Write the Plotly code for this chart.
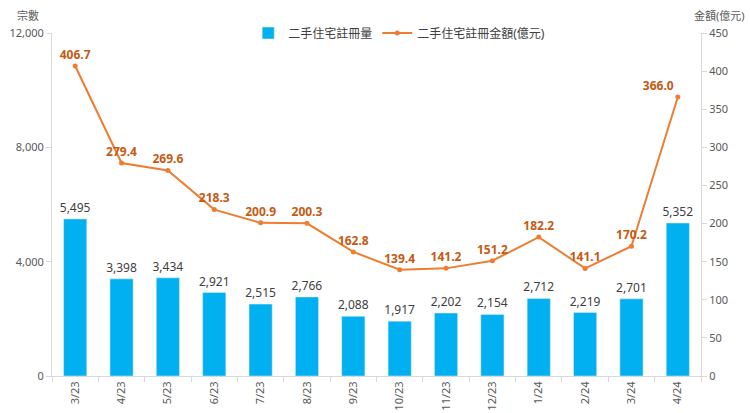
import plotly.graph_objects as go

months = ["3/23", "4/23", "5/23", "6/23", "7/23", "8/23", "9/23", "10/23", "11/23", "12/23", "1/24", "2/24", "3/24", "4/24"]
volume = [5495, 3398, 3434, 2921, 2515, 2766, 2088, 1917, 2202, 2154, 2712, 2219, 2701, 5352]
amount = [406.7, 279.4, 269.6, 218.3, 200.9, 200.3, 162.8, 139.4, 141.2, 151.2, 182.2, 141.1, 170.2, 366.0]
left_ticks = [0, 4000, 8000, 12000]
right_ticks = [0, 50, 100, 150, 200, 250, 300, 350, 400, 450]

font_family = "Noto Sans, Noto Sans CJK TC, sans-serif"
grey = "#595959"
axis_col = "#d9d9d9"

text_pos = ["top center"] * len(amount)
text_pos[-1] = "top left"

fig = go.Figure()
fig.add_trace(go.Bar(
    x=months, y=volume, name="二手住宅註冊量",
    marker=dict(color="#00b0f0"),
    text=[f"{v:,}" for v in volume], textposition="outside",
    constraintext="none",
    textfont=dict(size=12, color="#404040"), cliponaxis=False,
))
fig.add_trace(go.Scatter(
    x=months, y=amount, name="二手住宅註冊金額(億元)", yaxis="y2",
    mode="lines+markers+text",
    line=dict(color="#ed7d31", width=2),
    marker=dict(size=5, color="#ed7d31"),
    text=[f"<b>{v:.1f}</b>" for v in amount], textposition=text_pos,
    textfont=dict(size=12, color="#c55a11"), cliponaxis=False,
))

fig.update_layout(
    width=750, height=413,
    margin=dict(l=52, r=49, t=33, b=37, autoexpand=False),
    paper_bgcolor="white", plot_bgcolor="white",
    font=dict(family=font_family, size=11, color=grey),
    bargap=0.5,
    showlegend=True,
    legend=dict(orientation="h", x=0.535, xanchor="center", y=1.0, yanchor="middle",
                font=dict(size=12, color="#404040"), bgcolor="rgba(0,0,0,0)",
                itemwidth=30, traceorder="normal"),
    xaxis=dict(type="category", range=[-0.5, len(months) - 0.5], showline=True,
               linecolor=axis_col, ticks="outside",
               tickcolor=axis_col, ticklen=5, tickson="boundaries", tickangle=-90,
               showgrid=False, automargin=False, tickfont=dict(size=11, color=grey)),
    yaxis=dict(range=[0, 12000], tickvals=left_ticks, tickformat=",", showline=True,
               linecolor=axis_col, ticks="outside", tickcolor=axis_col, ticklen=5,
               showgrid=False, zeroline=False, automargin=False,
               tickfont=dict(size=11, color=grey)),
    yaxis2=dict(range=[0, 450], tickvals=right_ticks, overlaying="y", side="right",
                showline=True, linecolor=axis_col, ticks="outside", tickcolor=axis_col,
                ticklen=5, showgrid=False, zeroline=False, automargin=False,
                tickfont=dict(size=11, color=grey)),
    annotations=[
        dict(text="宗數", xref="paper", yref="paper", x=0, xshift=-24, y=1.0, yshift=18,
             xanchor="center", yanchor="middle", showarrow=False, font=dict(size=11, color=grey)),
        dict(text="金額(億元)", xref="paper", yref="paper", x=1, xshift=46, y=1.0, yshift=18,
             xanchor="right", yanchor="middle", showarrow=False, font=dict(size=11, color=grey)),
    ],
)

fig.write_html("out.html", config={"displayModeBar": False},
               post_script="document.body.style.margin='0';document.body.style.overflow='hidden';")
